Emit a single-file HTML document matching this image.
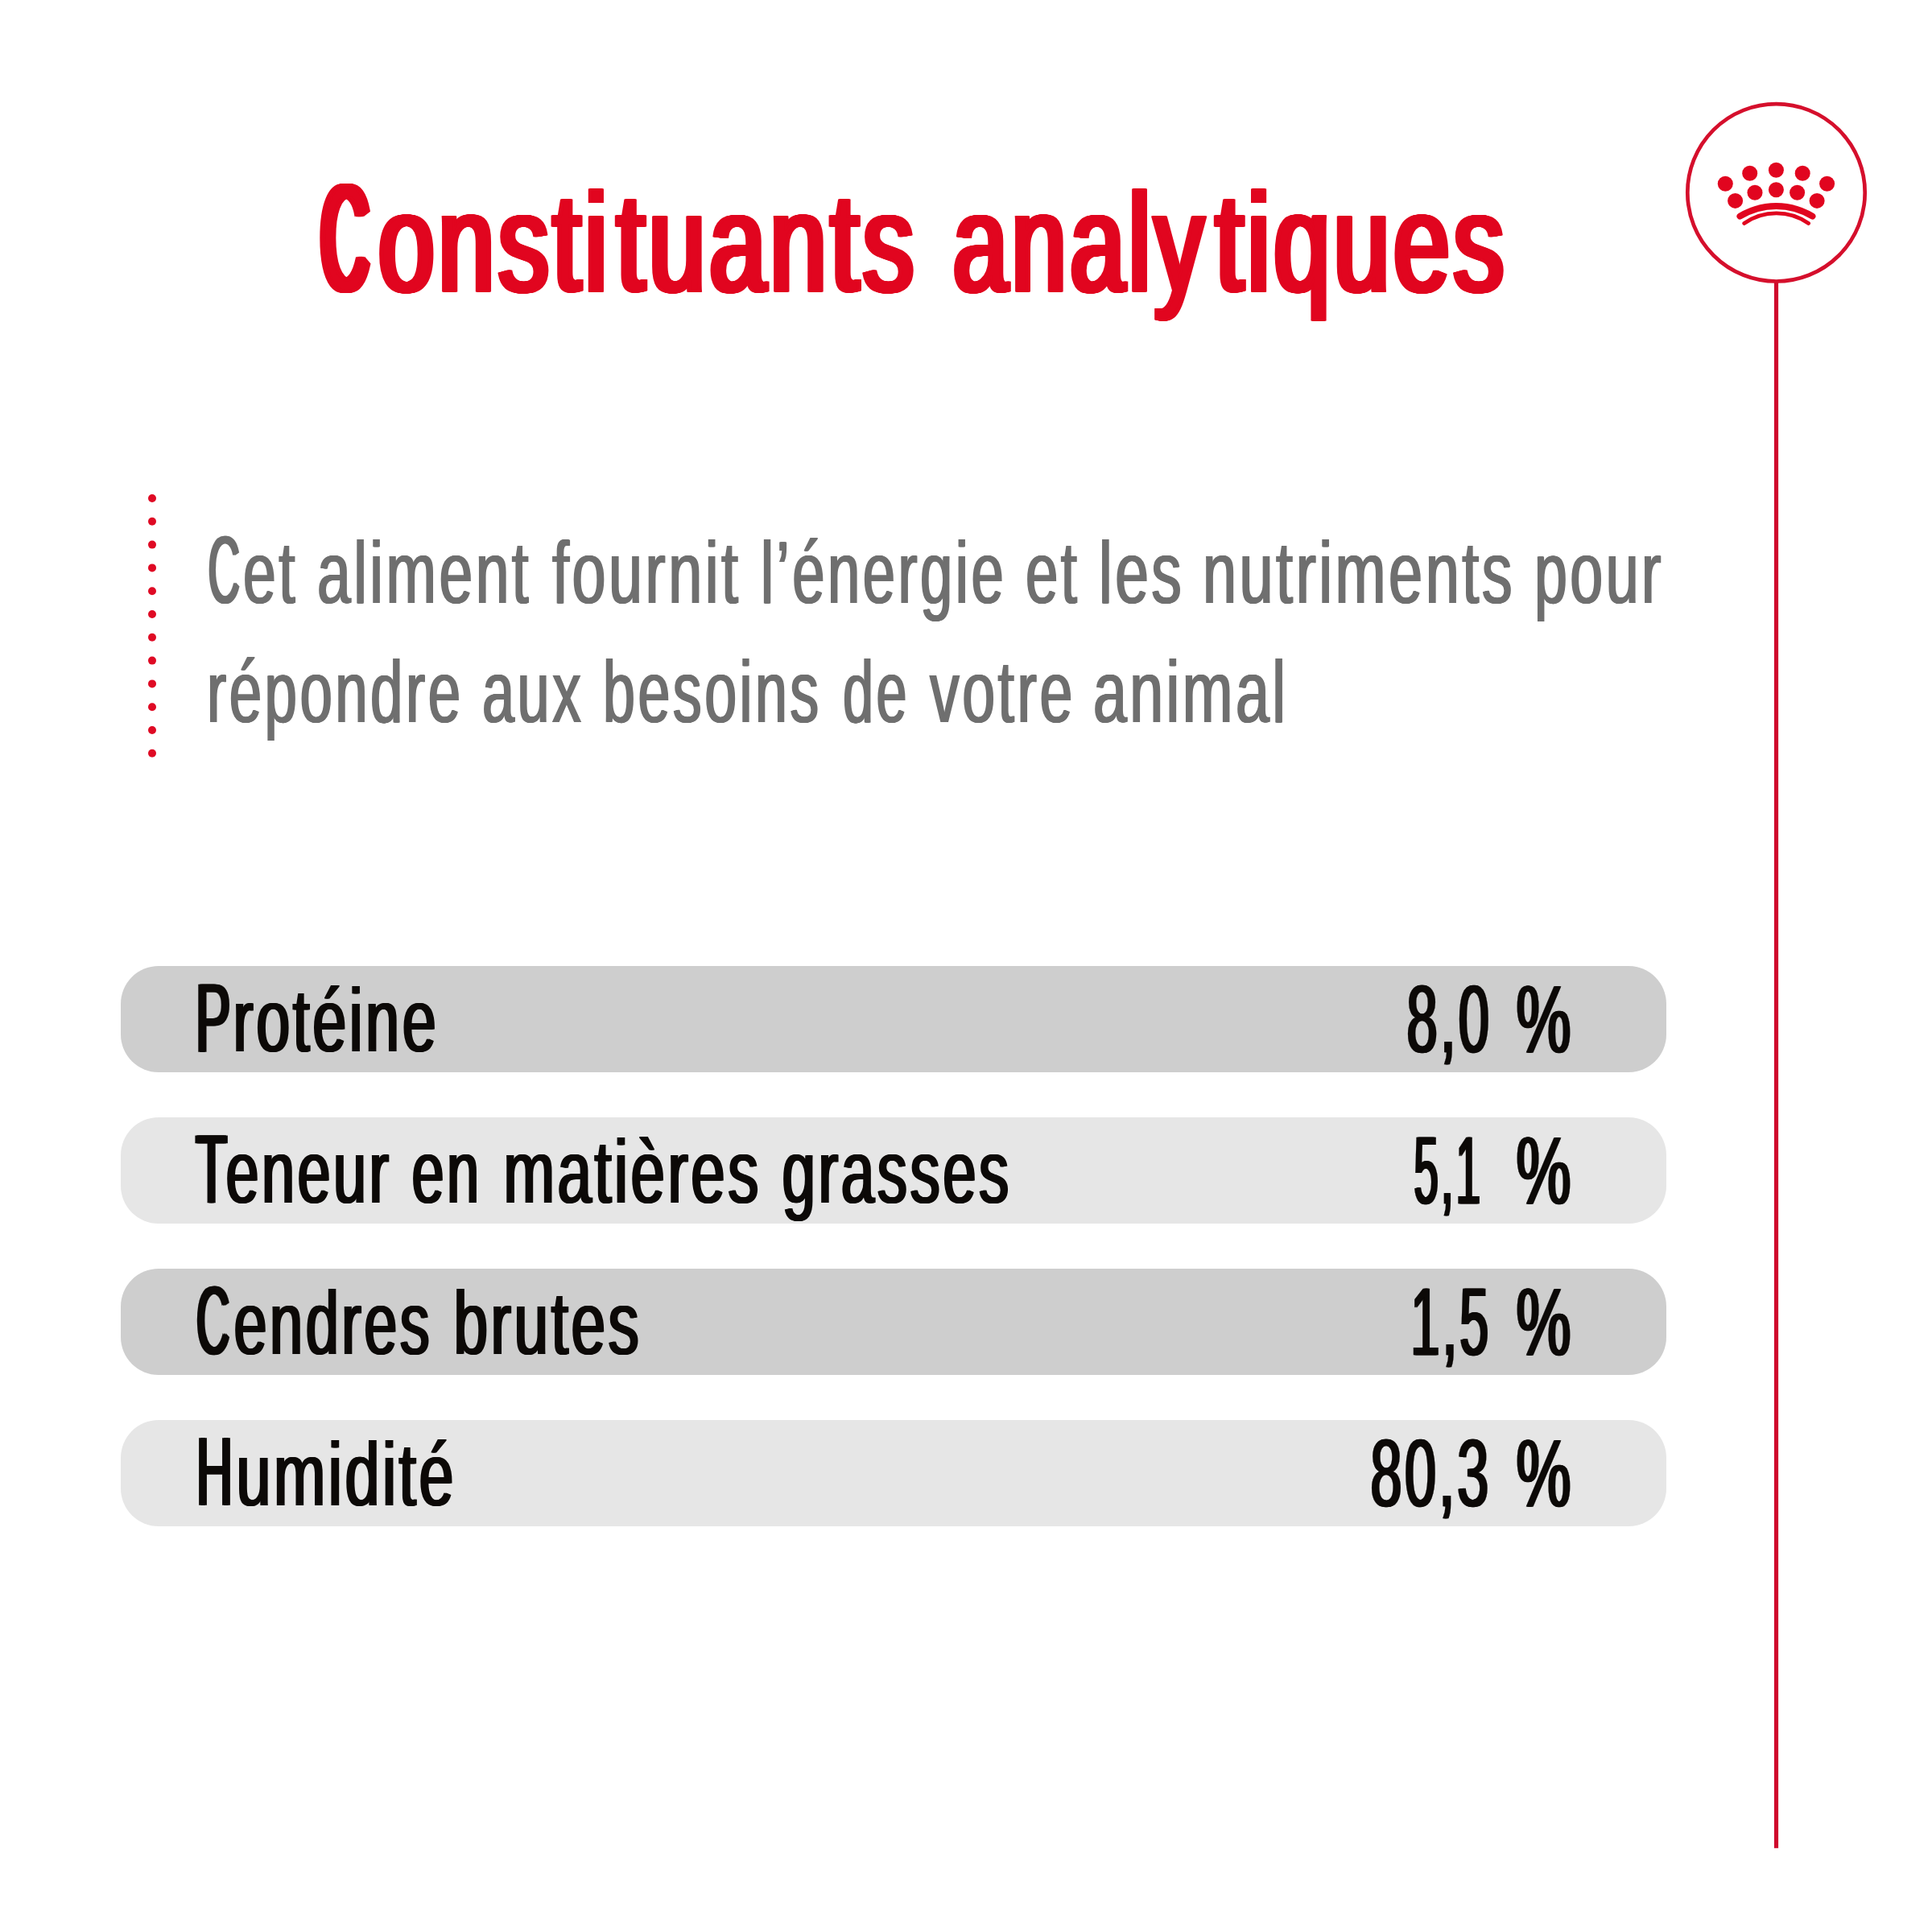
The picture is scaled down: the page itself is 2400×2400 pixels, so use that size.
<!DOCTYPE html>
<html lang="fr">
<head>
<meta charset="utf-8">
<title>Constituants analytiques</title>
<style>
html,body{margin:0;padding:0;background:#fff;}
html{width:2400px;height:2400px;overflow:hidden;}
body{width:2400px;height:2400px;position:relative;overflow:hidden;font-family:"Liberation Sans",sans-serif;}
.w{position:absolute;display:block;white-space:nowrap;line-height:1;margin:0;padding:0;}
.g{display:block;transform-origin:0 0;white-space:nowrap;}
.title{font-size:172px;font-weight:400;color:#e1051f;-webkit-text-stroke:3.0px #e1051f;}
.titleC{font-size:185.5px;font-weight:400;color:#e1051f;-webkit-text-stroke:3.4px #e1051f;}
.para{font-size:110px;font-weight:400;color:#6f6f6f;}
.paraC{font-size:119.2px;font-weight:400;color:#6f6f6f;-webkit-text-stroke:0.2px #6f6f6f;}
.tbl{font-size:112px;font-weight:400;color:#0c0907;}
.tblC{font-size:120.5px;font-weight:400;color:#0c0907;-webkit-text-stroke:0.3px #0c0907;}
.num{font-size:119.5px;font-weight:400;color:#0c0907;-webkit-text-stroke:0.4px #0c0907;}
h1,p{margin:0;padding:0;font-size:inherit;font-weight:inherit;}
.row{position:absolute;left:150px;width:1920px;height:131.5px;border-radius:47px;}
.r1{top:1200.2px;background:#cecece;}
.r2{top:1388.2px;background:#e6e6e6;}
.r3{top:1576.2px;background:#cecece;}
.r4{top:1764.2px;background:#e6e6e6;}
.dots{position:absolute;left:0;top:0;}
svg{position:absolute;left:0;top:0;}
</style>
</head>
<body>
<svg width="2400" height="2400" viewBox="0 0 2400 2400">
<g fill="#df0a24">
<circle cx="189" cy="619" r="5"/><circle cx="189" cy="647.8" r="5"/><circle cx="189" cy="676.6" r="5"/><circle cx="189" cy="705.4" r="5"/><circle cx="189" cy="734.2" r="5"/><circle cx="189" cy="763" r="5"/><circle cx="189" cy="791.8" r="5"/><circle cx="189" cy="820.6" r="5"/><circle cx="189" cy="849.4" r="5"/><circle cx="189" cy="878.2" r="5"/><circle cx="189" cy="907" r="5"/><circle cx="189" cy="935.8" r="5"/>
</g>
<rect x="2203.9" y="350" width="5.2" height="1945.8" fill="#cf0a2c"/>
<circle cx="2206.5" cy="239.3" r="110.2" fill="none" stroke="#d50f2c" stroke-width="4.7"/>
<g fill="#e1051f">
<circle cx="2143.3" cy="228.3" r="9.5"/><circle cx="2173.7" cy="215.3" r="9.5"/><circle cx="2206.4" cy="211.3" r="9.5"/><circle cx="2239.2" cy="215.3" r="9.5"/><circle cx="2269.6" cy="228.3" r="9.5"/>
<circle cx="2155.6" cy="249.4" r="9.5"/><circle cx="2180" cy="239.3" r="9.5"/><circle cx="2206.4" cy="235.8" r="9.5"/><circle cx="2232.6" cy="239.3" r="9.5"/><circle cx="2257.1" cy="249.4" r="9.5"/>
</g>
<path d="M2161.4 268.7 A86.1 86.1 0 0 1 2251.5 268.7" fill="none" stroke="#e1051f" stroke-width="7.9" stroke-linecap="round"/>
<path d="M2166.6 277.5 A70.2 70.2 0 0 1 2246.7 277.5" fill="none" stroke="#e1051f" stroke-width="4.8" stroke-linecap="round"/>
</svg>
<div class="row r1"></div><div class="row r2"></div><div class="row r3"></div><div class="row r4"></div>
<h1><span class="w titleC" style="left:400.47px;top:203.14px;filter:drop-shadow(2px 0 0 currentColor) drop-shadow(2px 0 0 currentColor) drop-shadow(1px 0 0 currentColor) drop-shadow(-2px 0 0 currentColor) drop-shadow(-2px 0 0 currentColor) drop-shadow(-2px 0 0 currentColor);"><span class="g" style="transform:scaleX(0.4292);letter-spacing:11.65px">C</span></span><span class="w title" style="left:470.10px;top:214.77px;filter:drop-shadow(2px 0 0 currentColor) drop-shadow(1px 0 0 currentColor) drop-shadow(-2px 0 0 currentColor) drop-shadow(-1px 0 0 currentColor);"><span class="g" style="transform:scaleX(0.7277);letter-spacing:6.87px">onsti</span></span><span class="w title" style="left:765.83px;top:214.77px;filter:drop-shadow(2px 0 0 currentColor) drop-shadow(1px 0 0 currentColor) drop-shadow(-2px 0 0 currentColor) drop-shadow(-1px 0 0 currentColor);"><span class="g" style="transform:scaleX(0.7343);letter-spacing:6.81px">tuants</span></span> <span class="w title" style="left:1184.11px;top:214.77px;filter:drop-shadow(2px 0 0 currentColor) drop-shadow(1px 0 0 currentColor) drop-shadow(-2px 0 0 currentColor) drop-shadow(-1px 0 0 currentColor);"><span class="g" style="transform:scaleX(0.7078);letter-spacing:7.06px">analy</span></span><span class="w title" style="left:1509.64px;top:214.77px;filter:drop-shadow(2px 0 0 currentColor) drop-shadow(1px 0 0 currentColor) drop-shadow(-2px 0 0 currentColor) drop-shadow(-1px 0 0 currentColor);"><span class="g" style="transform:scaleX(0.7258);letter-spacing:6.89px">tiques</span></span></h1>
<p><span class="w paraC" style="left:258.79px;top:647.68px;filter:drop-shadow(1px 0 0 currentColor) drop-shadow(-2px 0 0 currentColor);"><span class="g" style="transform:scaleX(0.4593);letter-spacing:7.62px">C</span></span><span class="w para" style="left:302.03px;top:655.57px;filter:drop-shadow(1px 0 0 currentColor) drop-shadow(-1px 0 0 currentColor);"><span class="g" style="transform:scaleX(0.6665);letter-spacing:5.25px">et</span></span> <span class="w para" style="left:393.57px;top:655.57px;filter:drop-shadow(1px 0 0 currentColor) drop-shadow(-1px 0 0 currentColor);"><span class="g" style="transform:scaleX(0.6814);letter-spacing:5.14px">aliment</span></span> <span class="w para" style="left:685.51px;top:655.57px;filter:drop-shadow(1px 0 0 currentColor) drop-shadow(-1px 0 0 currentColor);"><span class="g" style="transform:scaleX(0.6868);letter-spacing:5.10px">fournit</span></span> <span class="w para" style="left:944.59px;top:655.57px;filter:drop-shadow(1px 0 0 currentColor) drop-shadow(-1px 0 0 currentColor);"><span class="g" style="transform:scaleX(0.6581);letter-spacing:5.32px">l’énergie</span></span> <span class="w para" style="left:1273.86px;top:655.57px;filter:drop-shadow(1px 0 0 currentColor) drop-shadow(-1px 0 0 currentColor);"><span class="g" style="transform:scaleX(0.6596);letter-spacing:5.31px">et</span></span> <span class="w para" style="left:1364.84px;top:655.57px;filter:drop-shadow(1px 0 0 currentColor) drop-shadow(-1px 0 0 currentColor);"><span class="g" style="transform:scaleX(0.6806);letter-spacing:5.14px">les</span></span> <span class="w para" style="left:1493.99px;top:655.57px;filter:drop-shadow(1px 0 0 currentColor) drop-shadow(-1px 0 0 currentColor);"><span class="g" style="transform:scaleX(0.6875);letter-spacing:5.09px">nutriments</span></span> <span class="w para" style="left:1906.42px;top:655.57px;filter:drop-shadow(1px 0 0 currentColor) drop-shadow(-1px 0 0 currentColor);"><span class="g" style="transform:scaleX(0.6680);letter-spacing:5.24px">pour</span></span> <span class="w para" style="left:256.58px;top:803.97px;filter:drop-shadow(1px 0 0 currentColor) drop-shadow(-1px 0 0 currentColor);"><span class="g" style="transform:scaleX(0.6597);letter-spacing:5.31px">répondre</span></span> <span class="w para" style="left:598.58px;top:803.97px;filter:drop-shadow(1px 0 0 currentColor) drop-shadow(-1px 0 0 currentColor);"><span class="g" style="transform:scaleX(0.6545);letter-spacing:5.35px">aux</span></span> <span class="w para" style="left:749.24px;top:803.97px;filter:drop-shadow(1px 0 0 currentColor) drop-shadow(-1px 0 0 currentColor);"><span class="g" style="transform:scaleX(0.6520);letter-spacing:5.37px">besoins</span></span> <span class="w para" style="left:1046.72px;top:803.97px;filter:drop-shadow(1px 0 0 currentColor) drop-shadow(-1px 0 0 currentColor);"><span class="g" style="transform:scaleX(0.6210);letter-spacing:5.64px">de</span></span> <span class="w para" style="left:1154.90px;top:803.97px;filter:drop-shadow(1px 0 0 currentColor) drop-shadow(-1px 0 0 currentColor);"><span class="g" style="transform:scaleX(0.6677);letter-spacing:5.24px">votre</span></span> <span class="w para" style="left:1358.47px;top:803.97px;filter:drop-shadow(1px 0 0 currentColor) drop-shadow(-1px 0 0 currentColor);"><span class="g" style="transform:scaleX(0.6834);letter-spacing:5.12px">animal</span></span></p>
<div class="table">
<div class="tr"><span class="lab"><span class="w tblC" style="left:242.72px;top:1205.13px;filter:drop-shadow(2px 0 0 currentColor) drop-shadow(-2px 0 0 currentColor);"><span class="g" style="transform:scaleX(0.5400);letter-spacing:6.48px">P</span></span><span class="w tbl" style="left:290.27px;top:1212.47px;filter:drop-shadow(1px 0 0 currentColor) drop-shadow(-2px 0 0 currentColor);"><span class="g" style="transform:scaleX(0.6752);letter-spacing:5.18px">rotéine</span></span></span> <span class="val"><span class="w num" style="left:1748.24px;top:1205.92px;filter:drop-shadow(1px 0 0 currentColor) drop-shadow(-2px 0 0 currentColor);"><span class="g" style="transform:scaleX(0.5743);letter-spacing:6.09px">8,0</span></span> <span class="w num" style="left:1883.67px;top:1205.92px;filter:drop-shadow(1px 0 0 currentColor) drop-shadow(-2px 0 0 currentColor);"><span class="g" style="transform:scaleX(0.6392);letter-spacing:5.48px">%</span></span></span></div>
<div class="tr"><span class="lab"><span class="w tblC" style="left:242.81px;top:1393.13px;filter:drop-shadow(2px 0 0 currentColor) drop-shadow(-2px 0 0 currentColor);"><span class="g" style="transform:scaleX(0.5339);letter-spacing:6.56px">T</span></span><span class="w tbl" style="left:280.57px;top:1400.47px;filter:drop-shadow(1px 0 0 currentColor) drop-shadow(-2px 0 0 currentColor);"><span class="g" style="transform:scaleX(0.6587);letter-spacing:5.31px">eneur</span></span> <span class="w tbl" style="left:512.02px;top:1400.47px;filter:drop-shadow(1px 0 0 currentColor) drop-shadow(-2px 0 0 currentColor);"><span class="g" style="transform:scaleX(0.6440);letter-spacing:5.43px">en</span></span> <span class="w tbl" style="left:625.64px;top:1400.47px;filter:drop-shadow(1px 0 0 currentColor) drop-shadow(-2px 0 0 currentColor);"><span class="g" style="transform:scaleX(0.6806);letter-spacing:5.14px">matières</span></span> <span class="w tbl" style="left:972.04px;top:1400.47px;filter:drop-shadow(1px 0 0 currentColor) drop-shadow(-2px 0 0 currentColor);"><span class="g" style="transform:scaleX(0.6651);letter-spacing:5.26px">grasses</span></span></span> <span class="val"><span class="w num" style="left:1756.97px;top:1393.92px;filter:drop-shadow(1px 0 0 currentColor) drop-shadow(-2px 0 0 currentColor);"><span class="g" style="transform:scaleX(0.4552);letter-spacing:7.69px">5,1</span></span> <span class="w num" style="left:1883.67px;top:1393.92px;filter:drop-shadow(1px 0 0 currentColor) drop-shadow(-2px 0 0 currentColor);"><span class="g" style="transform:scaleX(0.6392);letter-spacing:5.48px">%</span></span></span></div>
<div class="tr"><span class="lab"><span class="w tblC" style="left:244.43px;top:1581.13px;filter:drop-shadow(2px 0 0 currentColor) drop-shadow(-2px 0 0 currentColor);"><span class="g" style="transform:scaleX(0.4735);letter-spacing:7.39px">C</span></span><span class="w tbl" style="left:290.56px;top:1588.47px;filter:drop-shadow(1px 0 0 currentColor) drop-shadow(-2px 0 0 currentColor);"><span class="g" style="transform:scaleX(0.6593);letter-spacing:5.31px">endres</span></span> <span class="w tbl" style="left:563.81px;top:1588.47px;filter:drop-shadow(1px 0 0 currentColor) drop-shadow(-2px 0 0 currentColor);"><span class="g" style="transform:scaleX(0.6837);letter-spacing:5.12px">brutes</span></span></span> <span class="val"><span class="w num" style="left:1752.55px;top:1581.92px;filter:drop-shadow(1px 0 0 currentColor) drop-shadow(-2px 0 0 currentColor);"><span class="g" style="transform:scaleX(0.5403);letter-spacing:6.48px">1,5</span></span> <span class="w num" style="left:1883.67px;top:1581.92px;filter:drop-shadow(1px 0 0 currentColor) drop-shadow(-2px 0 0 currentColor);"><span class="g" style="transform:scaleX(0.6392);letter-spacing:5.48px">%</span></span></span></div>
<div class="tr"><span class="lab"><span class="w tblC" style="left:244.13px;top:1769.13px;filter:drop-shadow(2px 0 0 currentColor) drop-shadow(-2px 0 0 currentColor);"><span class="g" style="transform:scaleX(0.5166);letter-spacing:6.78px">H</span></span><span class="w tbl" style="left:293.87px;top:1776.47px;filter:drop-shadow(1px 0 0 currentColor) drop-shadow(-2px 0 0 currentColor);"><span class="g" style="transform:scaleX(0.6896);letter-spacing:5.08px">umidité</span></span></span> <span class="val"><span class="w num" style="left:1703.19px;top:1769.92px;filter:drop-shadow(1px 0 0 currentColor) drop-shadow(-2px 0 0 currentColor);"><span class="g" style="transform:scaleX(0.5861);letter-spacing:5.97px">80,3</span></span> <span class="w num" style="left:1883.67px;top:1769.92px;filter:drop-shadow(1px 0 0 currentColor) drop-shadow(-2px 0 0 currentColor);"><span class="g" style="transform:scaleX(0.6392);letter-spacing:5.48px">%</span></span></span></div>
</div>
</body>
</html>
